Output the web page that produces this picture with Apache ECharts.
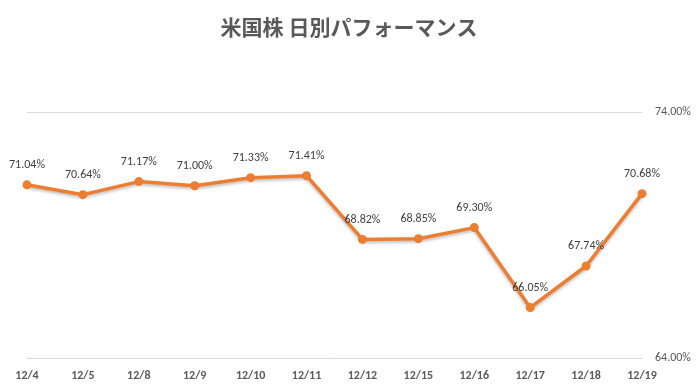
<!DOCTYPE html>
<html><head><meta charset="utf-8">
<script src="https://cdn.jsdelivr.net/npm/echarts@6/dist/echarts.min.js"></script>
<style>html,body{margin:0;padding:0;background:#fff}#c{width:698px;height:392px}</style>
</head><body><div id="c"></div>
<script>
const categories = ['12/4','12/5','12/8','12/9','12/10','12/11','12/12','12/15','12/16','12/17','12/18','12/19'];
const values = [71.04,70.64,71.17,71.00,71.33,71.41,68.82,68.85,69.30,66.05,67.74,70.68];
const yMin = 64, yMax = 74, yStep = 10;
const chart = echarts.init(document.getElementById('c'));
chart.setOption({
  animation:false,
  title:{text:'米国株 日別パフォーマンス',left:'center',top:12,
    textStyle:{fontFamily:'"Noto Sans CJK JP"',fontSize:21,fontWeight:'bold',color:'#595959'}},
  grid:{left:27,right:56,top:112,bottom:34},
  xAxis:{type:'category',data:categories,boundaryGap:false,
    axisLine:{show:false},axisTick:{show:false},
    axisLabel:{margin:12,color:'#595959',fontWeight:'bold',fontSize:12,fontFamily:'Carlito, Calibri, "Liberation Sans", sans-serif'}},
  yAxis:{type:'value',position:'right',min:yMin,max:yMax,interval:yStep,
    axisLine:{show:false},axisTick:{show:false},
    splitLine:{lineStyle:{color:'#d9d9d9',width:1}},
    axisLabel:{margin:13,color:'#595959',fontSize:12,fontFamily:'Carlito, Calibri, "Liberation Sans", sans-serif',formatter:v=>v.toFixed(2)+'%'}},
  series:[{type:'line',data:values,symbol:'circle',symbolSize:9,
    lineStyle:{color:'#ED7D31',width:3.5,shadowColor:'rgba(0,0,0,0.25)',shadowBlur:3,shadowOffsetY:2},
    itemStyle:{color:'#ED7D31'},
    label:{show:true,position:'top',distance:9,color:'#404040',fontSize:12,fontFamily:'Carlito, Calibri, "Liberation Sans", sans-serif',
      formatter:p=>p.value.toFixed(2)+'%'}}]
});
</script></body></html>
